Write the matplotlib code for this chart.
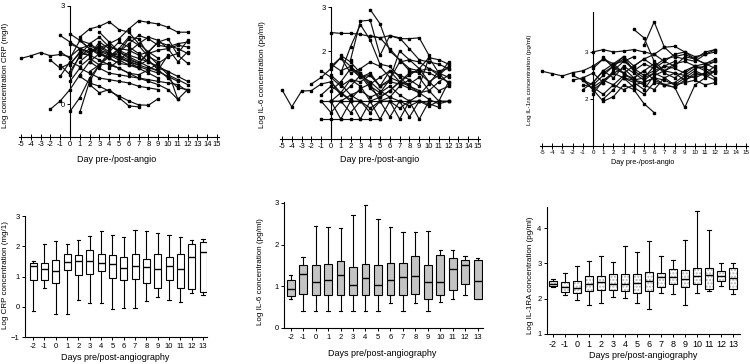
import matplotlib
matplotlib.use("Agg")
import matplotlib.pyplot as plt
import numpy as np

plt.rcParams['font.family'] = ['Liberation Sans', 'DejaVu Sans']

W, H = 750, 364

# ---------------- data: individual patient trajectories (start day, values) ----------------
crp_start = [-5, 1, 3, -2, 0, 1, -1, 0, 2, 1, 2, 0, -2, -1, 1, 0, 3, -1, 0, 2, 0, 4, 1, -1, 5]
crp_values = [
    [1.40, 1.48, 1.58, 1.48, 1.52, 1.45, 1.70, 1.80, 1.62, 1.50, 1.35, 1.20, 1.10],
    [2.05, 2.30, 2.38, 2.52, 2.28, 2.20, 1.85, 1.60, 1.40],
    [1.60, 1.85, 2.00, 2.30, 2.55, 2.50, 2.45, 2.35, 2.20, 2.20],
    [-0.15, 0.10, 0.45, 0.90, 1.30, 1.55, 1.40, 1.25],
    [-0.22, 0.20, 0.80, 1.20, 1.50, 1.45, 1.30, 1.10, 0.95, 0.80],
    [-0.25, 0.70, 1.20, 1.60, 1.90, 1.75, 1.55, 1.30, 1.10, 1.00, 0.85, 0.70],
    [2.10, 1.90, 1.70, 1.55, 1.80, 1.60, 1.40, 1.30, 1.20, 1.35, 1.05, 1.50],
    [2.15, 1.95, 1.85, 2.05, 1.75, 1.65, 1.50, 1.40, 1.30, 1.15, 1.00, 0.15, 0.45],
    [0.60, 0.35, 0.45, 0.20, -0.05, -0.08],
    [0.85, 0.65, 0.55, 0.40, 0.25, 0.10, -0.02, -0.03, 0.17],
    [1.30, 1.10, 0.95, 0.90, 0.85, 0.80, 0.75, 0.70, 0.65, 0.60, 0.40],
    [1.00, 1.45, 1.70, 1.60, 1.40, 1.70, 1.65, 1.50, 1.60, 1.90, 1.80, 1.70, 1.55],
    [1.35, 1.10, 1.25, 1.55, 1.50, 1.90, 1.70],
    [1.20, 0.90, 1.50, 1.85, 1.65, 1.55, 1.40, 1.30, 1.20, 1.10, 1.05, 0.80, 0.50, 0.45],
    [1.30, 1.55, 1.75, 1.80, 1.60, 1.85, 2.10, 2.00, 1.80, 1.75, 1.85, 1.90],
    [0.70, 1.10, 0.95, 0.80, 0.75, 0.70, 0.65, 0.55, 0.50, 0.45],
    [2.20, 1.90, 1.60, 1.45, 1.30, 1.15, 1.00, 0.85, 0.70],
    [1.60, 1.40, 1.95, 1.70, 1.50, 1.45, 1.60, 2.00, 1.80, 1.45, 1.30],
    [1.85, 1.70, 1.60, 1.75, 1.55, 1.50, 1.35, 1.25, 1.55, 1.65, 1.70, 1.80, 1.75],
    [1.00, 1.20, 1.45, 1.70, 2.05, 2.00, 1.50, 1.20, 0.90, 0.75, 0.60],
    [1.20, 1.60, 1.50, 1.35, 1.20, 1.10, 0.95, 0.90, 1.05, 1.25, 1.45, 1.55, 1.95],
    [1.10, 1.35, 1.60, 1.85, 2.05, 1.95, 1.70, 1.30, 1.60],
    [1.95, 1.70, 1.55, 1.40, 1.25, 1.20, 1.15, 1.05, 0.95],
    [0.85, 1.30, 1.15, 1.40, 1.20, 1.25, 1.10, 0.95, 0.80, 0.70, 0.60, 0.45, 0.15],
    [1.60, 1.40, 1.25, 1.60, 1.90, 2.00, 1.50, 1.25],
]

il6_start = [-5, 0, 4, 2, 1, -1, -1, 0, 0, -1, 0, -2, 0, 0, 1, 0, -1, 2, 0, -1, 4, 0]
il6_values = [
    [1.12, 0.73, 1.09, 1.10, 1.25, 1.30, 1.05, 0.86, 0.86],
    [2.42, 2.40, 2.40, 2.38, 2.33, 2.30, 2.35, 2.28, 2.28, 2.30, 1.90],
    [2.94, 2.62, 2.00, 1.80, 1.60, 1.55, 1.50, 1.40, 1.30],
    [1.80, 2.68, 2.70, 1.90, 2.35, 2.30, 2.05, 1.80, 1.75, 1.70, 1.60],
    [1.50, 2.10, 2.60, 2.25, 1.70, 1.65, 1.40, 1.20, 1.10],
    [0.86, 0.86, 0.86, 0.86, 0.86, 0.86, 0.86, 0.86, 0.86, 0.86, 0.86, 0.86, 0.86, 0.86],
    [0.45, 0.45, 0.45, 0.45, 0.45, 0.45, 0.45],
    [0.86, 0.45, 0.86, 0.45, 0.86, 0.45, 0.86, 0.45, 0.86, 0.45, 0.86],
    [0.86, 0.86, 0.60, 0.86, 0.60, 0.86, 0.50, 0.86, 0.50, 0.86, 0.75, 0.86, 0.86],
    [1.55, 1.40, 1.20, 1.35, 1.30, 1.45, 1.20, 1.30, 1.25, 1.15, 1.05, 1.10, 1.30, 1.45],
    [1.70, 1.55, 1.65, 1.40, 1.50, 1.20, 1.35, 1.75, 1.80, 1.75, 1.60, 1.50, 1.40],
    [1.25, 1.40, 1.60, 1.85, 1.65, 1.45, 1.30, 1.10, 0.95, 1.20, 1.35],
    [1.30, 1.00, 1.20, 1.45, 1.15, 0.95, 1.10, 1.30, 1.20, 1.05, 0.90, 0.80, 0.86],
    [1.10, 1.30, 1.60, 1.50, 1.25, 1.40, 1.55, 1.45, 1.35, 1.20, 1.85, 1.80, 1.70],
    [1.90, 1.75, 1.50, 1.20, 1.05, 1.35, 2.00, 1.80, 1.60, 1.30, 1.10, 1.20],
    [1.45, 1.25, 1.00, 1.10, 0.95, 1.05, 1.20, 1.00, 0.86, 1.00, 1.25, 1.55, 1.60],
    [1.00, 1.20, 1.05, 0.90, 1.15, 1.25, 0.86, 0.95, 0.86, 0.75, 0.86, 0.80, 0.72],
    [1.60, 1.40, 1.45, 1.20, 1.55, 1.30, 1.25, 1.40, 1.10, 0.86, 1.30],
    [0.86, 1.05, 1.35, 1.20, 0.86, 0.95, 1.10, 1.30, 1.45, 1.60, 1.85, 1.50, 1.25],
    [0.86, 0.60, 0.86, 1.00, 0.86, 0.70, 0.86, 0.86, 0.70, 0.86, 0.86],
    [2.35, 2.30, 2.05, 1.80, 1.55, 1.50, 1.30, 1.45, 1.65],
    [1.65, 1.85, 1.50, 1.60, 1.75, 1.65, 1.40, 1.30, 1.50, 1.55, 1.60, 1.45, 1.75],
]

il1ra_start = [-5, 4, 5, 0, -1, 1, -1, -2, 0, 0, -1, 1, 0, 2, -2, 0, 1, 3, -1]
il1ra_values = [
    [2.59, 2.54, 2.49, 2.56, 2.60, 2.70, 2.85, 2.75, 2.80, 2.90],
    [3.48, 3.30, 2.80, 2.60, 2.70],
    [3.15, 3.64, 3.10, 2.90, 2.85, 2.80, 2.95, 3.05],
    [3.00, 3.05, 3.00, 3.02, 3.05, 3.00, 2.95, 3.10, 3.12, 3.00, 2.90, 2.95, 3.00],
    [2.40, 2.20, 1.95, 2.05, 2.30, 2.20, 1.90, 1.71],
    [2.00, 2.20, 2.45, 2.40, 2.35, 2.45, 2.30, 2.25, 1.82, 2.30, 2.45, 2.60],
    [2.20, 2.35, 2.60, 2.75, 2.90, 2.70, 2.85, 2.70, 2.60, 2.75, 2.80, 2.70, 2.75, 2.85],
    [2.50, 2.40, 2.30, 2.50, 2.70, 2.55, 2.40, 2.45, 2.70, 2.85, 2.90, 2.95, 2.85, 2.75, 2.65],
    [2.10, 2.40, 2.55, 2.45, 2.35, 2.20, 2.50, 2.60, 2.55, 2.40, 2.50, 2.55, 2.60],
    [2.65, 2.85, 2.70, 2.90, 2.60, 2.75, 2.65, 2.80, 2.95, 3.00, 2.85, 2.75, 2.80],
    [2.30, 2.25, 2.40, 2.30, 2.20, 2.30, 2.35, 2.45, 2.40, 2.30, 2.35, 2.40, 2.30, 2.35],
    [2.55, 2.70, 2.85, 2.60, 2.45, 2.55, 2.70, 2.65, 2.55, 2.70, 2.60, 2.45],
    [2.25, 2.10, 2.30, 2.50, 2.45, 2.60, 2.40, 2.30, 2.35, 2.50, 2.45, 2.55, 2.70],
    [2.75, 2.55, 2.40, 2.30, 2.20, 2.45, 2.55, 2.50, 2.65, 2.70, 2.80],
    [2.40, 2.45, 2.20, 2.35, 2.60, 2.80, 2.65, 2.50, 2.60, 2.70, 2.80],
    [2.35, 2.60, 2.45, 2.70, 2.55, 2.40, 2.55, 2.45, 2.30, 2.45, 2.60, 2.50, 2.40],
    [2.90, 2.65, 2.55, 2.70, 2.85, 2.95, 2.80, 2.70, 2.90, 2.85, 3.00, 3.05],
    [2.45, 2.25, 2.10, 2.35, 2.30, 2.25, 2.40, 2.55, 2.50, 2.60],
    [2.45, 2.55, 2.35, 2.55, 2.65, 2.45, 2.60, 2.75, 2.55, 2.45, 2.60, 2.70, 2.65, 2.55],
]

# ---------------- data: box plot summaries per day ----------------
box_days = [-2, -1, 0, 1, 2, 3, 4, 5, 6, 7, 8, 9, 10, 11, 12, 13]

crp_whislo = [-0.15, 0.63, -0.24, -0.24, 0.23, 0.14, 0.14, -0.08, -0.03, -0.03, 0.19, 0.33, 0.22, 0.16, 0.47, 0.38]
crp_q1 = [0.90, 0.88, 0.77, 1.21, 1.04, 1.08, 1.18, 0.96, 0.88, 0.91, 0.77, 0.63, 0.88, 0.63, 0.58, 0.49]
crp_med = [1.34, 1.26, 1.18, 1.47, 1.52, 1.50, 1.46, 1.41, 1.29, 1.34, 1.33, 1.26, 1.34, 1.26, 1.63, 1.81]
crp_q3 = [1.46, 1.45, 1.56, 1.76, 1.70, 1.86, 1.76, 1.70, 1.65, 1.76, 1.58, 1.76, 1.66, 1.74, 2.07, 2.14]
crp_whishi = [1.50, 2.09, 2.18, 2.07, 2.20, 2.33, 2.50, 2.38, 2.31, 2.55, 2.50, 2.45, 2.38, 2.29, 2.20, 2.23]

il6_whislo = [0.70, 0.40, 0.40, 0.40, 0.40, 0.40, 0.40, 0.40, 0.60, 0.40, 0.60, 0.40, 0.62, 0.70, 0.80, 0.70]
il6_q1 = [0.76, 0.82, 0.80, 0.80, 0.80, 0.80, 0.80, 0.80, 0.80, 0.80, 0.82, 0.70, 0.80, 0.92, 1.06, 0.70]
il6_med = [0.94, 1.30, 1.10, 1.16, 1.26, 1.04, 1.20, 1.02, 1.16, 1.22, 1.25, 1.10, 1.10, 1.42, 1.50, 1.13]
il6_q3 = [1.14, 1.52, 1.50, 1.54, 1.60, 1.46, 1.54, 1.50, 1.56, 1.56, 1.72, 1.50, 1.74, 1.68, 1.64, 1.64]
il6_whishi = [1.26, 1.70, 2.44, 2.42, 2.40, 2.72, 2.96, 2.62, 2.42, 2.30, 2.30, 2.32, 1.88, 1.86, 1.73, 1.67]

ra_whislo = [2.33, 2.11, 1.95, 1.83, 1.88, 2.04, 2.01, 1.88, 1.71, 2.16, 2.12, 1.83, 2.16, 2.23, 2.37, 2.14]
ra_q1 = [2.35, 2.18, 2.16, 2.23, 2.26, 2.26, 2.23, 2.16, 2.23, 2.33, 2.42, 2.33, 2.42, 2.28, 2.49, 2.28]
ra_med = [2.42, 2.33, 2.30, 2.42, 2.47, 2.42, 2.42, 2.44, 2.50, 2.61, 2.61, 2.55, 2.64, 2.66, 2.63, 2.59]
ra_q3 = [2.49, 2.47, 2.49, 2.63, 2.63, 2.69, 2.71, 2.71, 2.75, 2.73, 2.85, 2.82, 2.87, 2.87, 2.80, 2.87]
ra_whishi = [2.56, 2.72, 2.94, 3.06, 3.21, 3.04, 3.49, 3.32, 3.63, 3.20, 3.11, 3.67, 4.48, 3.96, 3.01, 3.01]

# ---------------- layout helpers ----------------
fig = plt.figure(figsize=(W / 100, H / 100), dpi=100)


def add_ax(x0, y0, x1, y1):
    """pixel box (left, top, right, bottom) -> axes"""
    return fig.add_axes([x0 / W, 1 - y1 / H, (x1 - x0) / W, (y1 - y0) / H])


def ftext(x, y, s, **kw):
    fig.text(x / W, 1 - y / H, s, ha='center', va='center', **kw)


def spaghetti(ax, starts, values, ylim, yticks, fs):
    for s, v in zip(starts, values):
        days = np.arange(s, s + len(v))
        ax.plot(days, v, color='#111111', lw=0.85, marker='s', ms=2.1, mec='black', mfc='black', zorder=3)
    ax.set_xlim(-5.2, 15.2)
    ax.set_ylim(*ylim)
    ax.spines['top'].set_visible(False)
    ax.spines['right'].set_visible(False)
    ax.spines['left'].set_position(('data', 0))
    ax.spines['left'].set_linewidth(0.8)
    ax.spines['bottom'].set_linewidth(0.8)
    ax.set_xticks(range(-5, 16))
    ax.set_xticklabels([str(d) for d in range(-5, 16)])
    ax.set_yticks(yticks)
    ax.tick_params(axis='x', direction='inout', length=4, width=0.7, labelsize=fs, pad=1)
    ax.tick_params(axis='y', direction='out', length=2.5, width=0.7, labelsize=fs, pad=1)
    ax.set_facecolor('none')


def boxes(ax, whislo, q1, med, q3, whishi, face, hatch=None):
    stats = []
    for i in range(len(box_days)):
        stats.append(dict(whislo=whislo[i], q1=q1[i], med=med[i], q3=q3[i], whishi=whishi[i], fliers=[]))
    pos = np.arange(len(box_days))
    if hatch:
        ax.bxp(stats, positions=pos, widths=0.62, patch_artist=True, showcaps=False,
               boxprops=dict(facecolor='white', edgecolor='#b5b5b5', hatch=hatch, linewidth=0),
               whiskerprops=dict(linewidth=0), medianprops=dict(linewidth=0))
        face = 'none'
    ax.bxp(stats, positions=pos, widths=0.62, patch_artist=True, capwidths=0.28,
           boxprops=dict(facecolor=face, edgecolor='black', linewidth=0.8),
           whiskerprops=dict(color='black', linewidth=0.8),
           capprops=dict(color='black', linewidth=0.8),
           medianprops=dict(color='black', linewidth=1.0))
    ax.spines['top'].set_visible(False)
    ax.spines['right'].set_visible(False)
    ax.set_xticks(pos)
    ax.set_xticklabels([str(d) for d in box_days])
    ax.tick_params(axis='both', direction='out', length=2.5, width=0.7, labelsize=5.5, pad=1.5)


# ---------------- top row: individual trajectories ----------------
ax1 = add_ax(19, 6, 219, 137)
spaghetti(ax1, crp_start, crp_values, (-1, 3), [0, 3], 5.5)
ftext(117, 159, 'Day pre-/post-angio', fontsize=6.5)
ftext(6, 75, 'Log concentration CRP (mg/l)', fontsize=5.8, rotation=90)

ax2 = add_ax(280, 7, 480, 139)
spaghetti(ax2, il6_start, il6_values, (0, 3), [2, 3], 5.5)
ftext(380, 160, 'Day pre-/post-angio', fontsize=6.5)
ftext(262, 75, 'Log IL-6 concentration (pg/ml)', fontsize=5.8, rotation=90)

ax3 = add_ax(540, 12, 748, 146)
spaghetti(ax3, il1ra_start, il1ra_values, (1, 3.85), [2, 3], 4.5)
ftext(643, 162, 'Day pre-/post-angio', fontsize=5.2)
ftext(530, 80, 'Log IL-1ra concentration (pg/ml)', fontsize=4.6, rotation=90)

# ---------------- bottom row: box plots ----------------
ax4 = add_ax(25, 216, 207, 337)
boxes(ax4, crp_whislo, crp_q1, crp_med, crp_q3, crp_whishi, 'white')
ax4.set_xlim(-0.72, 15.35)
ax4.set_ylim(-1, 3)
ax4.set_yticks([-1, 0, 1, 2, 3])
ftext(115, 358, 'Days pre/post-angiography', fontsize=6.5)
ftext(6, 275, 'Log CRP concentration (mg/1)', fontsize=5.8, rotation=90)

ax5 = add_ax(284, 202, 483, 328)
boxes(ax5, il6_whislo, il6_q1, il6_med, il6_q3, il6_whishi, '#c4c4c4')
ax5.set_xlim(-0.54, 15.43)
ax5.set_ylim(0, 3.02)
ax5.set_yticks([0, 1, 2, 3])
ftext(382, 354, 'Days pre/post-angiography', fontsize=6.5)
ftext(260, 272, 'Log IL-6 concentration (pg/ml)', fontsize=5.8, rotation=90)

ax6 = add_ax(547, 207, 740, 334)
boxes(ax6, ra_whislo, ra_q1, ra_med, ra_q3, ra_whishi, 'white', hatch='.....')
ax6.set_xlim(-0.5, 15.58)
ax6.set_ylim(1, 4.6)
ax6.set_yticks([1, 2, 3, 4])
ax6.tick_params(axis='x', labelsize=6.5)
ftext(643, 356, 'Days pre/post-angiography', fontsize=6.5)
ftext(530, 275, 'Log IL-1RA concentration (pg/ml)', fontsize=5.8, rotation=90)

fig.savefig('out.png', dpi=100, facecolor='white')
